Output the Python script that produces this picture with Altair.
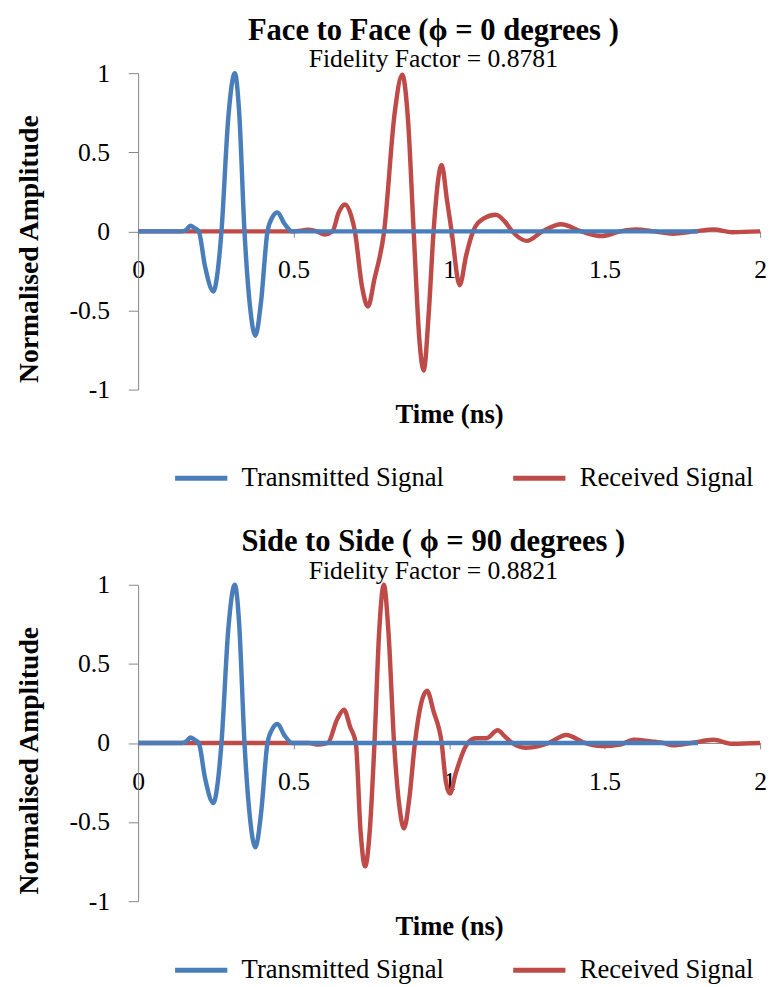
import altair as alt
import pandas as pd

BLUE = "#4A7EBB"
RED = "#BE4B48"
SERIES = ["Transmitted Signal", "Received Signal"]

# Transmitted signal (same in both panels)
time_tx = [0.00, 0.14, 0.155, 0.168, 0.182, 0.195, 0.215, 0.242, 0.256, 0.268,
           0.29, 0.311, 0.325, 0.342, 0.36, 0.377, 0.395, 0.416, 0.432, 0.448,
           0.47, 0.495, 1.80]
amp_tx = [0.0, 0.0, 0.01, 0.035, 0.02, 0.0, -0.22, -0.38, -0.25, 0.0,
          0.72, 1.0, 0.75, 0.0, -0.48, -0.66, -0.45, 0.0, 0.09, 0.12,
          0.05, 0.0, 0.0]

# Received signal, face to face
time_rx_face = [0.0, 0.50, 0.548, 0.575, 0.60, 0.625, 0.645, 0.665, 0.685, 0.697,
                0.72, 0.739, 0.76, 0.791, 0.825, 0.849, 0.868, 0.886, 0.905, 0.918,
                0.935, 0.95, 0.976, 0.993, 1.008, 1.034, 1.055, 1.077, 1.11, 1.15,
                1.18, 1.203, 1.25, 1.30, 1.36, 1.425, 1.49, 1.55, 1.60, 1.66,
                1.72, 1.79, 1.85, 1.91, 2.0]
amp_rx_face = [0.0, 0.0, 0.01, 0.0, -0.02, 0.0, 0.12, 0.17, 0.1, 0.0,
               -0.35, -0.475, -0.3, 0.0, 0.75, 0.99, 0.7, 0.0, -0.7, -0.88,
               -0.5, 0.0, 0.42, 0.2, 0.0, -0.34, -0.15, 0.0, 0.08, 0.105,
               0.06, 0.0, -0.06, 0.0, 0.045, 0.0, -0.03, 0.0, 0.012, 0.0,
               -0.015, 0.0, 0.012, -0.005, 0.0]

# Received signal, side to side
time_rx_side = [0.0, 0.50, 0.55, 0.58, 0.61, 0.64, 0.662, 0.682, 0.70, 0.715,
                0.73, 0.745, 0.76, 0.775, 0.79, 0.805, 0.823, 0.84, 0.855, 0.872,
                0.89, 0.91, 0.929, 0.95, 0.976, 0.99, 1.003, 1.02, 1.06, 1.087,
                1.12, 1.156, 1.18, 1.203, 1.245, 1.288, 1.32, 1.377, 1.436, 1.49,
                1.55, 1.594, 1.65, 1.69, 1.72, 1.78, 1.85, 1.91, 2.0]
amp_rx_side = [0.0, 0.0, 0.0, -0.01, 0.0, 0.15, 0.21, 0.1, 0.0, -0.55,
               -0.78, -0.55, 0.0, 0.7, 1.0, 0.7, 0.0, -0.4, -0.54, -0.35,
               0.0, 0.25, 0.33, 0.2, 0.0, -0.25, -0.32, -0.2, 0.0, 0.03,
               0.03, 0.08, 0.04, 0.0, -0.03, -0.02, 0.0, 0.05, 0.0, -0.02,
               -0.01, 0.02, 0.01, 0.0, -0.015, 0.0, 0.02, -0.005, 0.0]

x_ticks = [0, 0.5, 1, 1.5, 2]
y_ticks = [-1, -0.5, 0, 0.5, 1]

FONT = "Liberation Serif"
GRAY = "#868686"
W, H = 631, 321


def panel(title, subtitle, rx_t, rx_a, legend_y):
    df = pd.concat([
        pd.DataFrame({"t": rx_t, "a": rx_a, "s": "Received Signal"}),
        pd.DataFrame({"t": time_tx, "a": amp_tx, "s": "Transmitted Signal"}),
    ])
    color = alt.Color(
        "s:N",
        scale=alt.Scale(domain=SERIES, range=[BLUE, RED]),
        legend=alt.Legend(
            orient="none", legendX=35, legendY=legend_y, direction="horizontal",
            symbolType="stroke", symbolSize=2809, symbolStrokeWidth=5,
            labelFont=FONT, labelFontSize=27, labelColor="black",
            labelOffset=12, columnPadding=59, title=None, labelLimit=0,
        ),
        title=None,
    )
    x = alt.X(
        "t:Q",
        scale=alt.Scale(domain=[0, 2], nice=False),
        title="Time (ns)",
        axis=alt.Axis(
            values=x_ticks, labelExpr="toString(datum.value)",
            offset=-H / 2, tickSize=6, labelPadding=20, labelFlush=False,
            domainColor=GRAY, tickColor=GRAY, grid=False,
            labelFont=FONT, labelFontSize=26, labelColor="black",
            titleFont=FONT, titleFontSize=27, titleFontWeight="bold",
            titleColor="black", titleY=186, titleBaseline="middle",
        ),
    )
    y = alt.Y(
        "a:Q",
        scale=alt.Scale(domain=[-1, 1], nice=False),
        title="Normalised Amplitude",
        axis=alt.Axis(
            values=y_ticks, labelExpr="toString(datum.value)",
            tickSize=10, labelPadding=19, titlePadding=26,
            domainColor=GRAY, tickColor=GRAY, grid=False,
            labelFont=FONT, labelFontSize=26, labelColor="black",
            titleFont=FONT, titleFontSize=28, titleFontWeight="bold",
            titleColor="black", titleY=178,
        ),
    )
    base = alt.Chart(df)
    red = base.transform_filter(alt.datum.s == "Received Signal").mark_line(
        strokeWidth=4.5, interpolate="monotone"
    ).encode(x=x, y=y, color=color)
    blue = base.transform_filter(alt.datum.s == "Transmitted Signal").mark_line(
        strokeWidth=4.5, interpolate="monotone"
    ).encode(x=x, y=y, color=color)
    return alt.layer(red, blue).properties(
        width=W, height=H,
        title=alt.TitleParams(
            text=title, subtitle=subtitle,
            font=FONT, fontSize=31, fontWeight="bold", color="black",
            subtitleFont=FONT, subtitleFontSize=26, subtitleColor="black",
            anchor="middle", frame="group", dx=-16, offset=-13, subtitlePadding=0,
        ),
    )


top = panel("Face to Face (ϕ = 0 degrees  )", "Fidelity Factor = 0.8781",
            time_rx_face, amp_rx_face, 382)
bottom = panel("Side to Side ( ϕ = 90 degrees )", "Fidelity Factor = 0.8821",
               time_rx_side, amp_rx_side, 362)

chart = alt.vconcat(top, bottom, spacing=36).resolve_scale(
    color="independent"
).resolve_legend(color="independent").configure_view(stroke=None).properties(
    padding={"left": 7, "top": 0, "right": 0, "bottom": 0}
)

chart.save("out.html", embed_options={"renderer": "svg", "actions": False})
